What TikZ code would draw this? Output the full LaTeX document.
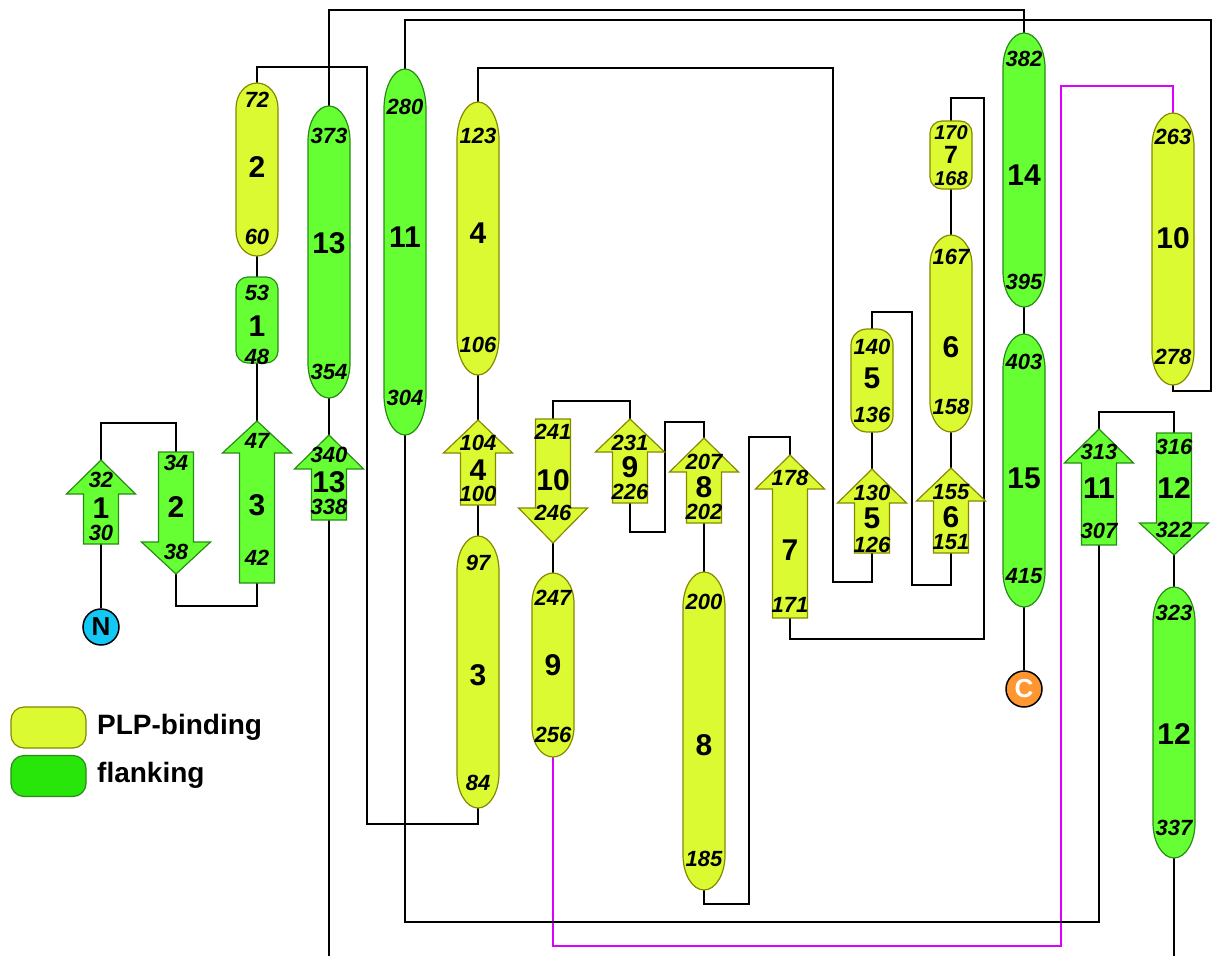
\documentclass[tikz,border=0pt]{standalone}
\usepackage{fontspec}
\setmainfont{Liberation Sans}
\usetikzlibrary{backgrounds}
\definecolor{yfill}{RGB}{220,250,50}
\definecolor{yedge}{RGB}{135,135,0}
\definecolor{gfill}{RGB}{102,255,51}
\definecolor{gedge}{RGB}{40,140,20}
\definecolor{lgfill}{RGB}{40,230,10}
\definecolor{magline}{RGB}{220,0,255}
\definecolor{ncol}{RGB}{20,200,245}
\definecolor{ccol}{RGB}{255,150,50}
\tikzset{
  conn/.style={line width=2.2pt, black},
  magc/.style={line width=2.5pt, magline},
  plp/.style={fill=yfill, draw=yedge, line width=1.2pt},
  flk/.style={fill=gfill, draw=gedge, line width=1.2pt},
  num/.style={font=\bfseries\fontsize{30}{30}\selectfont, inner sep=0pt, text height=21pt, text depth=0pt},
  res/.style={font=\bfseries\itshape\fontsize{22}{22}\selectfont, inner sep=0pt, text height=15pt, text depth=0pt},
  smallnum/.style={font=\bfseries\fontsize{25}{25}\selectfont, inner sep=0pt, text height=17pt, text depth=0pt},
  smallres/.style={font=\bfseries\itshape\fontsize{20}{20}\selectfont, inner sep=0pt, text height=14pt, text depth=0pt},
  term/.style={circle, draw=black, line width=1.5pt, minimum size=36pt, inner sep=0pt, font=\bfseries\fontsize{26}{26}\selectfont},
  legtxt/.style={anchor=west, inner sep=0pt, font=\bfseries\fontsize{28}{28}\selectfont},
}
% up strand: name, cx, tip, headbase, bottom, style
\newcommand\strU[6]{%
  \draw[#6] ({#2-17.5},#5) -- ({#2-17.5},#4) -- ({#2-34.5},#4) -- (#2,#3) -- ({#2+34.5},#4) -- ({#2+17.5},#4) -- ({#2+17.5},#5) -- cycle;
  \coordinate (#1t) at (#2,#3); \coordinate (#1b) at (#2,#5);}
% down strand: name, cx, top, headbase, tip, style
\newcommand\strD[6]{%
  \draw[#6] ({#2-17.5},#3) -- ({#2-17.5},#4) -- ({#2-34.5},#4) -- (#2,#5) -- ({#2+34.5},#4) -- ({#2+17.5},#4) -- ({#2+17.5},#3) -- cycle;
  \coordinate (#1t) at (#2,#3); \coordinate (#1e) at (#2,#5);}
% helix with elliptic caps: name, cx, top, bottom, ry, style
\newcommand\hlx[6]{%
  \draw[#6] ({#2-21},{#4-#5}) -- ({#2-21},{#3+#5})
   .. controls ({#2-21},{#3+0.448*#5}) and ({#2-11.6},#3) .. (#2,#3)
   .. controls ({#2+11.6},#3) and ({#2+21},{#3+0.448*#5}) .. ({#2+21},{#3+#5})
   -- ({#2+21},{#4-#5})
   .. controls ({#2+21},{#4-0.448*#5}) and ({#2+11.6},#4) .. (#2,#4)
   .. controls ({#2-11.6},#4) and ({#2-21},{#4-0.448*#5}) .. cycle;
  \coordinate (#1t) at (#2,#3); \coordinate (#1b) at (#2,#4);}
% short helix as rounded box: name, cx, top, bottom, radius, style
\newcommand\hlxr[6]{%
  \draw[#6, rounded corners=#5pt] ({#2-21},#3) rectangle ({#2+21},#4);
  \coordinate (#1t) at (#2,#3); \coordinate (#1b) at (#2,#4);}
% labels: name, cx, y1, top text, y2, number, y3, bottom text
\newcommand\labs[8]{%
  \node[res] (#1a) at (#2,#3) {#4};
  \node[num] (#1n) at (#2,#5) {#6};
  \node[res] (#1z) at (#2,#7) {#8};}
\pgfdeclarelayer{bg}
\pgfsetlayers{bg,main}
\begin{document}
\begin{tikzpicture}[x=1pt,y=-1pt]
\useasboundingbox (0,0) rectangle (1213,956);
% strands
\strU{s1}{101}{460}{494}{544}{flk}  \labs{s1}{101}{480}{32}{508}{1}{533}{30}
\strD{s2}{176}{452}{542}{574}{flk}  \labs{s2}{176}{463}{34}{507}{2}{552}{38}
\strU{s3}{257}{421}{453}{583}{flk}  \labs{s3}{257}{441}{47}{505}{3}{558}{42}
\strU{s13}{329}{435}{469}{520}{flk} \labs{s13}{329}{455}{340}{482}{13}{507}{338}
\strU{s4}{478}{420}{453}{505}{plp}  \labs{s4}{478}{443}{104}{470}{4}{494}{100}
\strD{s10}{553}{419}{508}{543}{plp} \labs{s10}{553}{432}{241}{480}{10}{513}{246}
\strU{s9}{630}{419}{452}{503}{plp}  \labs{s9}{630}{443}{231}{467}{9}{492}{226}
\strU{s8}{704}{438}{472}{523}{plp}  \labs{s8}{704}{462}{207}{487}{8}{512}{202}
\strU{s7}{790}{455}{489}{618}{plp}  \labs{s7}{790}{478}{178}{550}{7}{605}{171}
\strU{s5}{872}{469}{503}{553}{plp}  \labs{s5}{872}{493}{130}{518}{5}{545}{126}
\strU{s6}{951}{468}{501}{553}{plp}  \labs{s6}{951}{492}{155}{517}{6}{542}{151}
\strU{s11}{1099}{429}{463}{545}{flk} \labs{s11}{1099}{452}{313}{488}{11}{531}{307}
\strD{s12}{1174}{433}{523}{555}{flk} \labs{s12}{1174}{447}{316}{488}{12}{530}{322}
% helices
\hlxr{h1}{257}{277}{363}{12}{flk} \labs{h1}{257}{293}{53}{326}{1}{357}{48}
\hlx{h2}{257}{83}{256}{25}{plp}   \labs{h2}{257}{100}{72}{167}{2}{237}{60}
\hlx{h13}{329}{106}{398}{35}{flk} \labs{h13}{329}{136}{373}{243}{13}{372}{354}
\hlx{h11}{405}{69}{435}{40}{flk}  \labs{h11}{405}{107}{280}{237}{11}{398}{304}
\hlx{h4}{478}{102}{375}{38}{plp}  \labs{h4}{478}{136}{123}{233}{4}{345}{106}
\hlx{h3}{478}{536}{808}{35}{plp}  \labs{h3}{478}{563}{97}{675}{3}{783}{84}
\hlx{h9}{553}{573}{757}{30}{plp}  \labs{h9}{553}{598}{247}{665}{9}{735}{256}
\hlx{h8}{704}{572}{890}{35}{plp}  \labs{h8}{704}{602}{200}{745}{8}{859}{185}
\hlxr{h5}{872}{329}{432}{16}{plp} \labs{h5}{872}{347}{140}{378}{5}{415}{136}
\hlx{h6}{951}{235}{432}{30}{plp}  \labs{h6}{951}{257}{167}{347}{6}{407}{158}
\hlxr{h7}{951}{121}{189}{12}{plp}
\node[smallres] (h7a) at (951,132) {170};
\node[smallnum] (h7n) at (951,155) {7};
\node[smallres] (h7z) at (951,178) {168};
\hlx{h14}{1024}{33}{307}{35}{flk} \labs{h14}{1024}{59}{382}{175}{14}{282}{395}
\hlx{h15}{1024}{334}{607}{35}{flk} \labs{h15}{1024}{362}{403}{478}{15}{576}{415}
\hlx{h10}{1173}{113}{385}{33}{plp} \labs{h10}{1173}{137}{263}{238}{10}{357}{278}
\hlx{h12}{1174}{587}{858}{35}{flk} \labs{h12}{1174}{613}{323}{734}{12}{828}{337}
% termini
\node[term, fill=ncol] (N) at (101,627) {N};
\node[term, fill=ccol, text=white] (C) at (1024,689) {C};
\coordinate (offA) at (329,956);
\coordinate (offB) at (1174,956);
% legend
\node[draw=yedge, line width=1.2pt, fill=yfill, rounded corners=13pt, minimum width=75pt, minimum height=41pt] (legY) at (48.5,727.5) {};
\node[draw=gedge, line width=1.2pt, fill=lgfill, rounded corners=13pt, minimum width=75pt, minimum height=41pt] (legG) at (48.5,776) {};
\node[legtxt] (legYt) at (97,727) {PLP-binding};
\node[legtxt] (legGt) at (97,775) {flanking};
% connectors
\begin{pgfonlayer}{bg}
\draw[conn] (N) -- (s1b);
\draw[conn] (s1t) -- (101,423) -| (s2t);
\draw[conn] (s2e) -- (176,606) -| (s3b);
\draw[conn] (s3t) -- (h1b);
\draw[conn] (h1t) -- (h2b);
\draw[conn] (h2t) -- (257,67) -- (367,67) -- (367,824) -| (h3b);
\draw[conn] (h3t) -- (s4b);
\draw[conn] (s4t) -- (h4b);
\draw[conn] (h4t) -- (478,68) -- (833,68) -- (833,582) -| (s5b);
\draw[conn] (s5t) -- (h5b);
\draw[conn] (h5t) -- (872,312) -- (912,312) -- (912,585) -| (s6b);
\draw[conn] (s6t) -- (h6b);
\draw[conn] (h6t) -- (h7b);
\draw[conn] (h7t) -- (951,98) -- (984,98) -- (984,639) -| (s7b);
\draw[conn] (s7t) -- (790,437) -- (749,437) -- (749,904) -| (h8b);
\draw[conn] (h8t) -- (s8b);
\draw[conn] (s8t) -- (704,422) -- (665,422) -- (665,532) -| (s9b);
\draw[conn] (s9t) -- (630,401) -| (s10t);
\draw[conn] (s10e) -- (h9t);
\draw[magc] (h9b) -- (553,946) -- (1061,946) -- (1061,86) -| (h10t);
\draw[conn] (h10b) -- (1173,391) -- (1211,391) -- (1211,20) -| (h11t);
\draw[conn] (h11b) -- (405,922) -| (s11b);
\draw[conn] (s11t) -- (1099,412) -| (s12t);
\draw[conn] (s12e) -- (h12t);
\draw[conn] (h12b) -- (offB);
\draw[conn] (offA) -- (s13b);
\draw[conn] (s13t) -- (h13b);
\draw[conn] (h13t) -- (329,10) -| (h14t);
\draw[conn] (h14b) -- (h15t);
\draw[conn] (h15b) -- (C);
\end{pgfonlayer}
\end{tikzpicture}
\end{document}
